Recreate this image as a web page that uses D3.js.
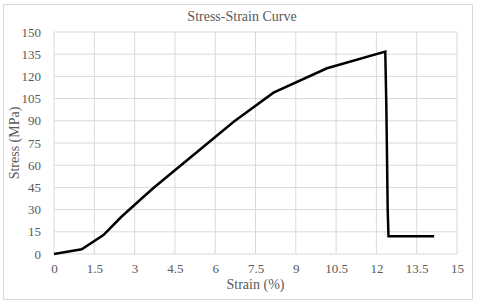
<!DOCTYPE html>
<html>
<head>
<meta charset="utf-8">
<script src="https://cdn.jsdelivr.net/npm/d3@7"></script>
<style>
  body { margin: 0; background: #fff; }
  svg text { font-family: "Liberation Serif", "DejaVu Serif", "Times New Roman", Times, serif; fill: #595959; }
</style>
</head>
<body>
<div id="chart"></div>
<script>
// strain (%) og stress (MPa) lest av bildet
const strain = [0, 1.03, 1.84, 2.5, 3.2, 3.7, 6.7, 8.17, 10.16, 12.33, 12.37, 12.42, 12.45, 14.15];
const stress = [0, 3.2, 12.8, 25, 36.5, 44.6, 89.5, 109, 125.5, 136.8, 100, 30, 12, 12];
const xTicks = [0, 1.5, 3, 4.5, 6, 7.5, 9, 10.5, 12, 13.5, 15];
const yTicks = [0, 15, 30, 45, 60, 75, 90, 105, 120, 135, 150];

const W = 480, H = 304;
const m = { left: 54, right: 23, top: 32, bottom: 50 };
const serif = "'Liberation Serif', 'DejaVu Serif', serif";

const svg = d3.select("#chart").append("svg")
    .attr("width", W)
    .attr("height", H);

// ytre ramme
svg.append("rect")
    .attr("x", 3.5).attr("y", 4.5)
    .attr("width", 469).attr("height", 295)
    .attr("fill", "#fff")
    .attr("stroke", "#d9d9d9");

const x = d3.scaleLinear().domain([0, 15]).range([m.left, W - m.right]);
const y = d3.scaleLinear().domain([0, 150]).range([H - m.bottom, m.top]);

// rutenett
svg.append("g").selectAll("line")
    .data(xTicks)
    .enter().append("line")
    .attr("x1", d => x(d)).attr("x2", d => x(d))
    .attr("y1", y(0)).attr("y2", y(150))
    .attr("stroke", "#d9d9d9");

svg.append("g").selectAll("line")
    .data(yTicks)
    .enter().append("line")
    .attr("x1", x(0)).attr("x2", x(15))
    .attr("y1", d => y(d)).attr("y2", d => y(d))
    .attr("stroke", "#d9d9d9");

// akser (bare tekst)
const xAxis = svg.append("g")
    .attr("transform", `translate(0,${y(0)})`)
    .call(d3.axisBottom(x).tickValues(xTicks).tickSize(0).tickPadding(10).tickFormat(d3.format("")));
xAxis.select(".domain").remove();
xAxis.attr("font-family", serif).attr("font-size", 13);

const yAxis = svg.append("g")
    .attr("transform", `translate(${x(0)},0)`)
    .call(d3.axisLeft(y).tickValues(yTicks).tickSize(0).tickPadding(13));
yAxis.select(".domain").remove();
yAxis.attr("font-family", serif).attr("font-size", 13);

// kurven
const line = d3.line()
    .x((d, i) => x(strain[i]))
    .y(d => y(d));

svg.append("path")
    .datum(stress)
    .attr("d", line)
    .attr("fill", "none")
    .attr("stroke", "#000")
    .attr("stroke-width", 2.5)
    .attr("stroke-linejoin", "miter");

// titler
svg.append("text")
    .attr("x", 242).attr("y", 21)
    .attr("text-anchor", "middle")
    .attr("font-family", serif)
    .attr("font-size", 14)
    .text("Stress-Strain Curve");

svg.append("text")
    .attr("x", (x(0) + x(15)) / 2).attr("y", 289)
    .attr("text-anchor", "middle")
    .attr("font-family", serif)
    .attr("font-size", 14)
    .text("Strain (%)");

svg.append("text")
    .attr("transform", `translate(19,${(y(0) + y(150)) / 2}) rotate(-90)`)
    .attr("text-anchor", "middle")
    .attr("font-family", serif)
    .attr("font-size", 14)
    .text("Stress (MPa)");
</script>
</body>
</html>
